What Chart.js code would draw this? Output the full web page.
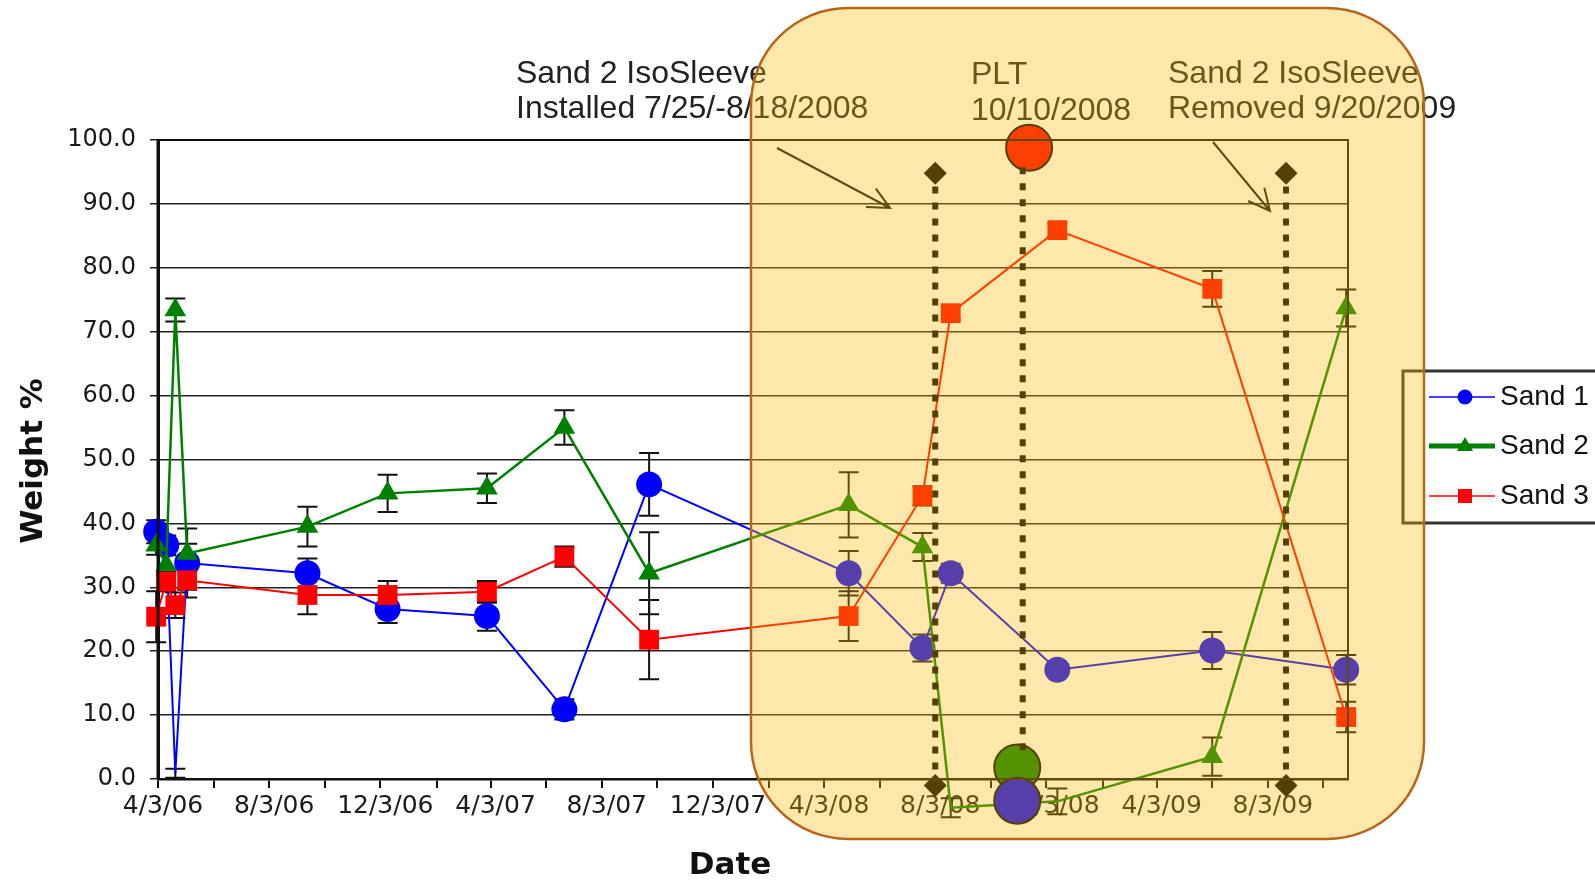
<!DOCTYPE html>
<html>
<head>
<meta charset="utf-8">
<script src="https://cdn.jsdelivr.net/npm/chart.js@4.4.1/dist/chart.umd.min.js"></script>
<style>
  html, body { margin: 0; padding: 0; background: #fff; }
  #wrap { width: 1595px; height: 884px; position: relative; }
</style>
</head>
<body>
<div id="wrap"><canvas id="chart"></canvas></div>
<script>
// sample dates and weight % for each sand
const sampleDates = ["2006-04-01", "2006-04-12", "2006-04-22", "2006-05-05", "2006-09-14", "2006-12-11",
  "2007-03-30", "2007-06-23", "2007-09-24", "2008-04-30", "2008-07-20", "2008-08-20",
  "2008-12-15", "2009-06-03", "2009-10-28"];
const sand1 = [38.7, 36.6, 0.9, 33.8, 32.2, 26.6, 25.5, 10.9, 46.1, 32.2, 20.5, 32.2, 17.1, 20.1, 17.1];
const sand1Err = [1.8, 1.5, 0.7, 5.4, 2.3, 2.2, 2.3, 1.6, 4.9, 3.5, 2.1, 1.5, 1.0, 2.9, 2.3];
const sand2 = [36.6, 33.5, 73.4, 35.3, 39.5, 44.7, 45.5, 55.0, 32.2, 42.9, 36.3, -4.5, -3.5, 3.5, 73.7];
const sand2Err = [1.5, 1.5, 1.8, 1.5, 3.1, 2.9, 2.3, 2.7, 6.4, 5.1, 2.2, 1.5, 2.0, 3.0, 2.9];
const sand3 = [25.4, 30.9, 27.2, 31.1, 28.8, 28.8, 29.3, 34.8, 21.8, 25.5, 44.3, 72.9, 85.9, 76.7, 9.7];
const sand3Err = [4.0, 1.5, 2.0, 1.5, 3.0, 2.2, 1.7, 1.6, 6.2, 3.9, 1.5, 1.0, 1.0, 2.8, 2.4];

// points with no marker drawn (sand 1 index 2, sand 2 index 11 and 12)
const sand1NoMarker = [2];
const sand2NoMarker = [11, 12];

// x axis ticks every 2 months, labels every 4 months
const xTickDates = ["2006-04-03", "2006-06-03", "2006-08-03", "2006-10-03", "2006-12-03", "2007-02-03",
  "2007-04-03", "2007-06-03", "2007-08-03", "2007-10-03", "2007-12-03", "2008-02-03",
  "2008-04-03", "2008-06-03", "2008-08-03", "2008-10-03", "2008-12-03", "2009-02-03",
  "2009-04-03", "2009-06-03", "2009-08-03", "2009-10-03"];
const xTickLabels = ["4/3/06", "", "8/3/06", "", "12/3/06", "", "4/3/07", "", "8/3/07", "", "12/3/07", "",
  "4/3/08", "", "8/3/08", "", "12/3/08", "", "4/3/09", "", "8/3/09", ""];
const xMin = "2006-04-03";
const xMax = "2009-10-30";

// IsoSleeve install / removal lines, PLT line and PLT markers
const sleeveDates = ["2008-08-03", "2009-08-23"];
const sleeveRange = [-1, 94.8];
const pltDate = "2008-11-07";
const pltRange = [4.5, 96];
const pltDates = ["2008-11-14", "2008-11-01", "2008-11-01"];
const pltValues = [98.8, 1.8, -3.4];

const day = (d) => Date.parse(d) / 864e5;
const pts = (vals) => vals.map((v, i) => ({ x: day(sampleDates[i]), y: v }));

const BLUE = "#0000ff", GREEN = "#008000", RED = "#ff0000";

function sandSet(label, vals, errs, color, style, r, width, order, noMarker) {
  return {
    label: label,
    data: pts(vals),
    errors: errs,
    borderColor: color,
    backgroundColor: color,
    borderWidth: width,
    pointStyle: style,
    pointRadius: vals.map((v, i) => (noMarker.includes(i) ? 0 : r)),
    pointBorderWidth: 0,
    pointBackgroundColor: color,
    tension: 0,
    clip: false,
    order: order,
  };
}

const datasets = [
  sandSet("Sand 1", sand1, sand1Err, BLUE, "circle", 13, 2, 3, sand1NoMarker),
  sandSet("Sand 2", sand2, sand2Err, GREEN, "triangle", 12.5, 2.5, 2, sand2NoMarker),
  sandSet("Sand 3", sand3, sand3Err, RED, "rect", 14, 2, 1, []),
];

sleeveDates.forEach((d) => {
  datasets.push({
    label: "sleeve",
    data: sleeveRange.map((v) => ({ x: day(d), y: v })),
    borderColor: "#000",
    borderWidth: 6,
    borderDash: [7, 9],
    pointStyle: "rectRot",
    pointRadius: 11.5,
    pointBackgroundColor: "#000",
    pointBorderWidth: 0,
    clip: false,
    order: 0,
  });
});

datasets.push({
  label: "plt",
  data: pltRange.map((v) => ({ x: day(pltDate), y: v })),
  borderColor: "#000",
  borderWidth: 6,
  borderDash: [7, 9],
  pointRadius: 0,
  clip: false,
  order: 0,
});

// hoverRadius widens the area check so the circle below the axis is drawn too
datasets.push({
  label: "pltMarks",
  type: "scatter",
  data: pltValues.map((v, i) => ({ x: day(pltDates[i]), y: v })),
  pointRadius: 23,
  pointHoverRadius: 45,
  pointBackgroundColor: [RED, GREEN, BLUE],
  pointBorderColor: "#000",
  pointBorderWidth: 2,
  showLine: false,
  clip: false,
  order: 0,
});

// error bars
const errorBars = {
  id: "errorBars",
  beforeDatasetsDraw(chart) {
    const { ctx, scales: { x, y } } = chart;
    ctx.save();
    ctx.strokeStyle = "#111";
    ctx.lineWidth = 2;
    chart.data.datasets.forEach((ds) => {
      if (!ds.errors) return;
      ds.data.forEach((p, j) => {
        const e = ds.errors[j];
        const px = x.getPixelForValue(p.x);
        const top = y.getPixelForValue(p.y + e);
        const bot = y.getPixelForValue(p.y - e);
        ctx.beginPath();
        ctx.moveTo(px, top);
        ctx.lineTo(px, bot);
        ctx.moveTo(px - 10, top);
        ctx.lineTo(px + 10, top);
        ctx.moveTo(px - 10, bot);
        ctx.lineTo(px + 10, bot);
        ctx.stroke();
      });
    });
    ctx.restore();
  },
};

function arrow(ctx, x1, y1, x2, y2) {
  const a = Math.atan2(y2 - y1, x2 - x1);
  const h = 24;
  ctx.beginPath();
  ctx.moveTo(x1, y1);
  ctx.lineTo(x2, y2);
  ctx.moveTo(x2 - h * Math.cos(a - 0.45), y2 - h * Math.sin(a - 0.45));
  ctx.lineTo(x2, y2);
  ctx.lineTo(x2 - h * Math.cos(a + 0.45), y2 - h * Math.sin(a + 0.45));
  ctx.stroke();
}

// frame, titles, legend, notes and the shaded box
const extras = {
  id: "extras",
  afterDraw(chart) {
    const { ctx, chartArea: a } = chart;
    ctx.save();
    // plot border
    ctx.strokeStyle = "#111";
    ctx.lineWidth = 2;
    ctx.strokeRect(a.left, a.top, a.right - a.left, a.bottom - a.top);
    ctx.lineWidth = 3;
    ctx.beginPath();
    ctx.moveTo(a.left, a.top);
    ctx.lineTo(a.left, a.bottom);
    ctx.stroke();

    // axis titles
    ctx.fillStyle = "#111";
    ctx.font = "bold 31px 'DejaVu Sans'";
    ctx.textAlign = "center";
    ctx.textBaseline = "middle";
    ctx.fillText("Date", 730, 866);
    ctx.save();
    ctx.translate(34, 461);
    ctx.rotate(-Math.PI / 2);
    ctx.fillText("Weight %", 0, 0);
    ctx.restore();

    // legend
    ctx.fillStyle = "#fff";
    ctx.fillRect(1403, 371, 200, 152);
    ctx.strokeStyle = "#333";
    ctx.lineWidth = 3;
    ctx.strokeRect(1403, 371, 200, 152);
    const leg = [
      ["Sand 1", BLUE, 1.5, "circle", 397],
      ["Sand 2", GREEN, 5, "triangle", 446],
      ["Sand 3", RED, 1.5, "square", 496],
    ];
    leg.forEach(([txt, col, w, shape, ly]) => {
      ctx.strokeStyle = col;
      ctx.fillStyle = col;
      ctx.lineWidth = w;
      ctx.beginPath();
      ctx.moveTo(1429, ly);
      ctx.lineTo(1495, ly);
      ctx.stroke();
      ctx.beginPath();
      if (shape === "circle") ctx.arc(1465, ly, 7.5, 0, Math.PI * 2);
      else if (shape === "triangle") {
        ctx.moveTo(1465, ly - 9);
        ctx.lineTo(1473, ly + 5);
        ctx.lineTo(1457, ly + 5);
      } else ctx.rect(1458, ly - 7, 14, 14);
      ctx.fill();
      ctx.fillStyle = "#111";
      ctx.font = "28px 'Liberation Sans'";
      ctx.textAlign = "left";
      ctx.textBaseline = "middle";
      ctx.fillText(txt, 1500, ly);
    });

    // notes
    ctx.fillStyle = "#222";
    ctx.font = "32px 'Liberation Sans'";
    ctx.textAlign = "left";
    ctx.textBaseline = "alphabetic";
    ctx.fillText("Sand 2 IsoSleeve", 516, 83);
    ctx.fillText("Installed 7/25/-8/18/2008", 516, 118);
    ctx.fillText("PLT", 971, 84);
    ctx.fillText("10/10/2008", 971, 120);
    ctx.fillText("Sand 2 IsoSleeve", 1168, 83);
    ctx.fillText("Removed 9/20/2009", 1168, 118);

    ctx.strokeStyle = "#111";
    ctx.lineWidth = 2;
    arrow(ctx, 777, 148, 890, 208);
    arrow(ctx, 1213, 142, 1270, 211);

    // shaded rounded box
    ctx.beginPath();
    ctx.roundRect(751, 8, 673, 831, 97);
    ctx.fillStyle = "rgba(252, 184, 5, 0.34)";
    ctx.fill();
    ctx.strokeStyle = "#b8651a";
    ctx.lineWidth = 2.5;
    ctx.stroke();
    ctx.restore();
  },
};

new Chart(document.getElementById("chart"), {
  type: "line",
  data: { datasets: datasets },
  options: {
    responsive: true,
    maintainAspectRatio: false,
    animation: false,
    devicePixelRatio: 1,
    layout: { padding: { left: 0, top: 140, right: 247, bottom: 0 } },
    plugins: { legend: { display: false }, tooltip: { enabled: false } },
    scales: {
      x: {
        type: "linear",
        min: day(xMin),
        max: day(xMax),
        afterFit: (s) => { s.height = 105; },
        afterBuildTicks: (s) => { s.ticks = xTickDates.map((d) => ({ value: day(d) })); },
        ticks: {
          autoSkip: false,
          maxRotation: 0,
          padding: 3,
          labelOffset: 5,
          color: "#1a1a1a",
          font: { family: "DejaVu Sans", size: 25 },
          callback: (v, i) => xTickLabels[i],
        },
        grid: { drawOnChartArea: false, tickLength: 9, color: "#111", lineWidth: 2 },
        border: { color: "#111", width: 2.5 },
      },
      y: {
        min: 0,
        max: 100,
        afterFit: (s) => { s.width = 158; },
        ticks: {
          stepSize: 10,
          padding: 14,
          color: "#1a1a1a",
          font: { family: "DejaVu Sans", size: 24 },
          callback: (v) => v.toFixed(1),
        },
        grid: { color: "#222", lineWidth: 1.5, tickLength: 8 },
        border: { color: "#111", width: 3 },
      },
    },
  },
  plugins: [errorBars, extras],
});
</script>
</body>
</html>
